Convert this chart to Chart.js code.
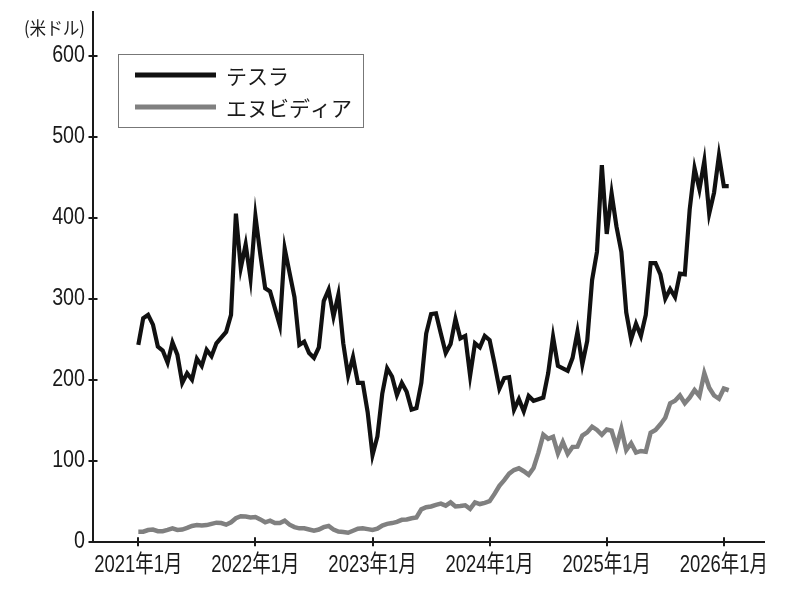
<!DOCTYPE html>
<html><head><meta charset="utf-8">
<script src="https://cdn.jsdelivr.net/npm/chart.js@4.4.1/dist/chart.umd.min.js"></script>
<style>html,body{margin:0;padding:0;background:#fff}#wrap{width:800px;height:593px;position:relative}</style>
</head><body><div id="wrap"><canvas id="c" width="800" height="593"></canvas></div>
<script>
// semi-monthly samples starting January 2021
const startYear = 2021;
const samplesPerYear = 24;
const seriesNames = ["テスラ", "エヌビディア"];
const unitLabel = "(米ドル)";
const xTickYears = [2021, 2022, 2023, 2024, 2025, 2026];
const xTickLabels = ["2021年1月", "2022年1月", "2023年1月", "2024年1月", "2025年1月", "2026年1月"];
const yTickValues = [0, 100, 200, 300, 400, 500, 600];

const tesla = [243,276,280,268,241,236,221,246,231,196,208,200,226,217,237,229,245,252,259,280,
405,338,367,325,402,355,313,309,288,267,362,332,302,243,247,233,227,240,297,311,
278,305,245,205,228,196,196,160,107,130,183,214,204,181,196,185,163,165,196,257,
281,282,257,233,244,275,251,254,205,245,240,254,249,220,189,202,203,163,176,161,
180,174,176,178,208,253,217,214,211,227,259,219,248,323,358,465,380,430,389,358,
283,250,269,254,280,344,344,330,300,312,302,331,330,410,461,435,470,405,431,477,
439,439];

const nvidia = [12.3,12.3,14.4,15,13,13,14.5,16.5,14.5,15,17,19.5,20.5,20,20.5,22,23.5,23,21,24,
29,31.5,31,30,30.5,27.5,24,26,23,23,26,21,18,16.5,16.5,15,13.5,15,18,19.4,
15,12.5,12,11,13.5,16,16.5,15.5,14.5,16,20,22,23,24.5,27,27.5,29,30,40,42.5,
43.5,45.5,47,44.5,48.5,43.5,44,45,40.5,48.5,46.5,48,50,59,69,76,84,88.5,90.6,87,
82.5,91,110,132,127,129.6,109,123,108.5,117,117.3,131,135,142,138,132,138.5,137,117.3,139.5,
113,121.5,110,112,111,134.6,138,145,153,170.9,174,180.5,171,178,187.3,180,208,190,180.5,176.5,
189,187];

const toPoints = arr => arr.map((v, i) => ({ x: startYear + i / samplesPerYear, y: v }));

const tickFont = { family: '"Liberation Sans", "Noto Sans CJK JP", sans-serif', size: 24 };
const cjkFont = '"Noto Sans CJK JP", sans-serif';
const ink = '#1a1a1a';

// draw the scale's own tick label items, horizontally condensed
function condensedLabels(f) {
  return function (chartArea) {
    const ctx = this.ctx;
    const items = this.getLabelItems(chartArea);
    ctx.save();
    for (const it of items) {
      const o = it.options;
      ctx.save();
      ctx.translate(o.translation[0], o.translation[1]);
      ctx.scale(f, 1);
      ctx.font = it.font.string;
      ctx.fillStyle = o.color;
      ctx.textAlign = o.textAlign;
      ctx.textBaseline = o.textBaseline;
      ctx.fillText(it.label, 0, it.textOffset);
      ctx.restore();
    }
    ctx.restore();
  };
}

const crossTicks = {
  id: 'crossTicks',
  afterDraw(chart) {
    const { ctx, chartArea, scales } = chart;
    ctx.save();
    ctx.strokeStyle = ink;
    ctx.lineWidth = 2;
    ctx.beginPath();
    xTickYears.forEach(v => {
      const px = Math.round(scales.x.getPixelForValue(v));
      ctx.moveTo(px, chartArea.bottom - 4.5);
      ctx.lineTo(px, chartArea.bottom + 4.5);
    });
    yTickValues.forEach(v => {
      const py = Math.round(scales.y.getPixelForValue(v));
      ctx.moveTo(chartArea.left - 4.5, py);
      ctx.lineTo(chartArea.left + 4.5, py);
    });
    ctx.stroke();
    // unit label
    ctx.fillStyle = ink;
    ctx.font = '18px ' + cjkFont;
    ctx.textAlign = 'left';
    ctx.textBaseline = 'middle';
    ctx.save();
    ctx.translate(24, 28);
    ctx.scale(0.92, 1);
    ctx.fillText(unitLabel, 0, 0);
    ctx.restore();
    // legend box
    ctx.strokeStyle = '#777';
    ctx.lineWidth = 1;
    ctx.strokeRect(118.5, 54.5, 245, 73);
    chart.data.datasets.forEach((ds, i) => {
      const y = 75 + 32 * i;
      ctx.strokeStyle = ds.borderColor;
      ctx.lineWidth = 5;
      ctx.beginPath();
      ctx.moveTo(135, y);
      ctx.lineTo(216, y);
      ctx.stroke();
      ctx.fillStyle = ink;
      ctx.font = '21px ' + cjkFont;
      ctx.fillText(ds.label, 226, y + 1);
    });
    ctx.restore();
  }
};

new Chart(document.getElementById('c'), {
  type: 'line',
  data: {
    datasets: [
      { label: seriesNames[0], data: toPoints(tesla), borderColor: '#111111', borderWidth: 4.2, pointRadius: 0, borderJoinStyle: 'miter', tension: 0 },
      { label: seriesNames[1], data: toPoints(nvidia), borderColor: '#808080', borderWidth: 4.5, pointRadius: 0, borderJoinStyle: 'miter', tension: 0 }
    ]
  },
  options: {
    responsive: false,
    animation: false,
    devicePixelRatio: 1,
    layout: { padding: { top: 12, right: 36, left: 0, bottom: 0 } },
    plugins: { legend: { display: false }, tooltip: { enabled: false } },
    scales: {
      x: {
        type: 'linear', min: 2020.613, max: 2026.343,
        afterBuildTicks: s => { s.ticks = xTickYears.map(v => ({ value: v })); },
        afterFit: s => {
          s.height = 51.3;
          s.paddingLeft = 0; s.paddingRight = 0; s.paddingTop = 0; s.paddingBottom = 0;
          s.drawLabels = condensedLabels(0.77);
        },
        ticks: {
          autoSkip: false, maxRotation: 0, minRotation: 0, padding: 9,
          color: ink, font: tickFont,
          callback: v => xTickLabels[xTickYears.indexOf(v)]
        },
        grid: { display: false, drawTicks: false },
        border: { display: true, color: ink, width: 2 }
      },
      y: {
        min: 0, max: 654,
        afterBuildTicks: s => { s.ticks = yTickValues.map(v => ({ value: v })); },
        afterFit: s => {
          s.width = 93;
          s.paddingLeft = 0; s.paddingRight = 0; s.paddingTop = 0; s.paddingBottom = 0;
          s.drawLabels = condensedLabels(0.82);
        },
        ticks: { padding: 8, color: ink, font: tickFont },
        grid: { display: false, drawTicks: false },
        border: { display: true, color: ink, width: 2 }
      }
    }
  },
  plugins: [crossTicks]
});
</script>
</body></html>
